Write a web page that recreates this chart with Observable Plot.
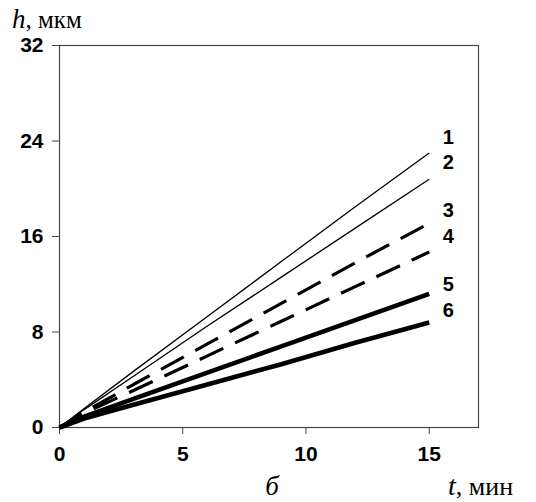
<!DOCTYPE html>
<html>
<head>
<meta charset="utf-8">
<script src="https://cdn.jsdelivr.net/npm/d3@7"></script>
<script src="https://cdn.jsdelivr.net/npm/@observablehq/plot@0.6"></script>
<style>
  body { margin: 0; background: #fff; }
  #chart svg { display: block; }
</style>
</head>
<body>
<div id="chart"></div>
<script>
const t = [0, 1, 3, 6, 9, 12, 15];
const h1 = [0, 1.6, 4.7, 9.3, 13.9, 18.5, 23.0];
const h2 = [0, 1.5, 4.3, 8.5, 12.6, 16.7, 20.8];
const h3 = [0, 1.3, 3.6, 7.0, 10.4, 13.8, 17.1];
const h4 = [0, 1.2, 3.1, 6.0, 8.9, 11.8, 14.7];
const h5 = [0, 0.9, 2.4, 4.6, 6.8, 9.0, 11.2];
const h6 = [0, 0.75, 1.9, 3.6, 5.3, 7.1, 8.8];
const seriesNames = ["1", "2", "3", "4", "5", "6"];
const labelY = [24.3, 22.2, 18.2, 16.0, 12.0, 9.8];
const xTicks = [0, 5, 10, 15];
const yTicks = [0, 8, 16, 24, 32];

const all = [h1, h2, h3, h4, h5, h6];
const rows = all.map((vals, i) => t.map((x, j) => ({x, y: vals[j], s: seriesNames[i]})));
const labels = seriesNames.map((s, i) => ({x: 15.55, y: labelY[i], s}));

const styles = [
  {strokeWidth: 1.3},
  {strokeWidth: 1.3},
  {strokeWidth: 3.2, strokeDasharray: "26,13"},
  {strokeWidth: 3.2, strokeDasharray: "26,13"},
  {strokeWidth: 4.6},
  {strokeWidth: 4.6}
];

const font = "'Liberation Sans', Arial, sans-serif";
const plot = Plot.plot({
  width: 536,
  height: 502,
  marginLeft: 59,
  marginRight: 58,
  marginTop: 45,
  marginBottom: 75,
  style: {fontFamily: font, background: "#fff", color: "#000"},
  x: {domain: [0, 17], ticks: xTicks, tickSize: 7, tickPadding: 10, label: null},
  y: {domain: [0, 32], ticks: yTicks, tickSize: 7, tickPadding: 9, label: null},
  marks: [
    Plot.frame({stroke: "#444", strokeWidth: 1.2}),
    Plot.axisX({ticks: xTicks, tickSize: 7, tickPadding: 12, fontSize: 21, fontWeight: "bold", stroke: "#444", label: null}),
    Plot.axisY({ticks: yTicks, tickSize: 7, tickPadding: 9, fontSize: 21, fontWeight: "bold", stroke: "#444", label: null}),
    ...rows.map((r, i) => Plot.line(r, {x: "x", y: "y", stroke: "#000", strokeLinejoin: "miter", strokeLinecap: "butt", ...styles[i]})),
    Plot.text(labels, {x: "x", y: "y", text: "s", textAnchor: "start", fontSize: 20, fontWeight: "bold", fill: "#000"})
  ]
});
document.getElementById("chart").appendChild(plot);

const svg = d3.select(plot);
const serif = "'Liberation Serif', 'Times New Roman', serif";
const ylab = svg.append("text").attr("x", 12).attr("y", 28).attr("text-anchor", "start")
  .attr("font-family", serif).attr("fill", "#000");
ylab.append("tspan").attr("font-style", "italic").attr("font-size", 27).text("h");
ylab.append("tspan").attr("font-size", 25).text(", мкм");
const xlab = svg.append("text").attr("x", 448).attr("y", 495).attr("text-anchor", "start")
  .attr("font-family", serif).attr("fill", "#000");
xlab.append("tspan").attr("font-style", "italic").attr("font-size", 28).text("t");
xlab.append("tspan").attr("font-size", 26).text(", мин");
svg.append("text").attr("x", 272).attr("y", 495).attr("text-anchor", "middle").attr("font-family", serif)
  .attr("font-style", "italic").attr("font-size", 27).attr("fill", "#000").text("б");
</script>
</body>
</html>
